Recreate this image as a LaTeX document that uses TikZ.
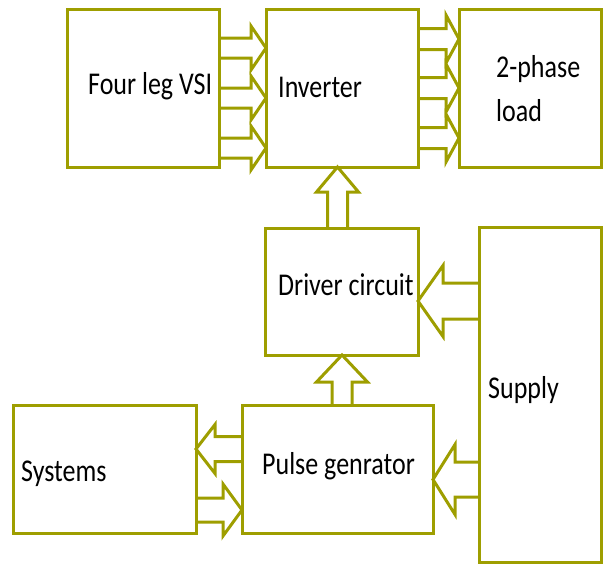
\documentclass[tikz,border=0pt]{standalone}
\usepackage{fontspec}
\setmainfont{Carlito}
\usetikzlibrary{calc}
\definecolor{olive}{RGB}{158,158,0}
\newcommand{\blockarrow}[5]{%
  \coordinate (ba-p) at ($(#2)!#5!(#1)$);
  \draw[flow] ($(#1)!#3!90:(#2)$) -- ($(ba-p)!#3!90:(#2)$) -- ($(ba-p)!#4!90:(#2)$) -- (#2)
    -- ($(ba-p)!#4!-90:(#2)$) -- ($(ba-p)!#3!-90:(#2)$) -- ($(#1)!#3!-90:(#2)$);
}
\newcommand{\lbl}[1]{\scalebox{1}[1.22]{#1}}
\begin{document}
\begin{tikzpicture}[x=1pt,y=-1pt,
  box/.style={draw=olive,line width=3pt,rectangle,outer sep=0pt,inner sep=0pt},
  flow/.style={draw=olive,line width=3pt,line join=miter},
  txt/.style={anchor=base west,inner sep=0pt,font=\fontsize{26}{29}\selectfont}]
\useasboundingbox (0,0) rectangle (603,563);
% boxes
\node[box,minimum width=152pt,minimum height=158pt] (vsi) at (143,88) {};
\node[box,minimum width=152pt,minimum height=158pt] (inv) at (342,88) {};
\node[box,minimum width=142pt,minimum height=158pt] (load) at (530,88) {};
\node[box,minimum width=153pt,minimum height=127pt] (drv) at (341.5,291.5) {};
\node[box,minimum width=122pt,minimum height=335pt] (sup) at (540,394.5) {};
\node[box,minimum width=183pt,minimum height=128pt] (sys) at (104.5,469) {};
\node[box,minimum width=191pt,minimum height=128pt] (pul) at (337.5,469) {};
% labels
\node[txt] (tvsi) at (88,94) {\lbl{Four leg VSI}};
\node[txt] (tinv) at (278,97) {\lbl{Inverter}};
\node[txt] (tload1) at (496,77) {\lbl{2-phase}};
\node[txt] (tload2) at (496,121) {\lbl{load}};
\node[txt] (tdrv) at (278,295) {\lbl{Driver circuit}};
\node[txt] (tsup) at (488,398) {\lbl{Supply}};
\node[txt] (tpul) at (262,474) {\lbl{Pulse genrator}};
\node[txt] (tsys) at (21,481) {\lbl{Systems}};
% VSI -> Inverter
\foreach \i/\yy in {1/48,2/98,3/148}{
  \coordinate (vs\i) at (vsi.east |- 0,\yy);
  \coordinate (ve\i) at (inv.west |- 0,\yy);
  \blockarrow{vs\i}{ve\i}{10pt}{22pt}{15pt}
}
% Inverter -> load
\foreach \i/\yy in {1/39,2/88,3/138}{
  \coordinate (ls\i) at (inv.east |- 0,\yy);
  \coordinate (le\i) at (load.west |- 0,\yy);
  \blockarrow{ls\i}{le\i}{10.5pt}{24pt}{13pt}
}
% Driver -> Inverter
\coordinate (di-s) at (drv.north -| 337.5,0);
\coordinate (di-e) at (inv.south -| 337.5,0);
\blockarrow{di-s}{di-e}{10pt}{21pt}{25pt}
% Supply -> Driver
\coordinate (sd-s) at (sup.west |- 0,301);
\coordinate (sd-e) at (drv.east |- 0,301);
\blockarrow{sd-s}{sd-e}{18pt}{35.5pt}{25pt}
% Pulse -> Driver
\coordinate (pd-s) at (pul.north -| 342,0);
\coordinate (pd-e) at (drv.south -| 342,0);
\blockarrow{pd-s}{pd-e}{10pt}{25.5pt}{27pt}
% Pulse -> Systems
\coordinate (ps-s) at (pul.west |- 0,449);
\coordinate (ps-e) at (sys.east |- 0,449);
\blockarrow{ps-s}{ps-e}{12.5pt}{24.5pt}{19pt}
% Systems -> Pulse
\coordinate (sp-s) at (sys.east |- 0,510);
\coordinate (sp-e) at (pul.west |- 0,510);
\blockarrow{sp-s}{sp-e}{12pt}{26pt}{19pt}
% Supply -> Pulse
\coordinate (su-s) at (sup.west |- 0,479.5);
\coordinate (su-e) at (pul.east |- 0,479.5);
\blockarrow{su-s}{su-e}{17.5pt}{35pt}{22pt}
\end{tikzpicture}
\end{document}
